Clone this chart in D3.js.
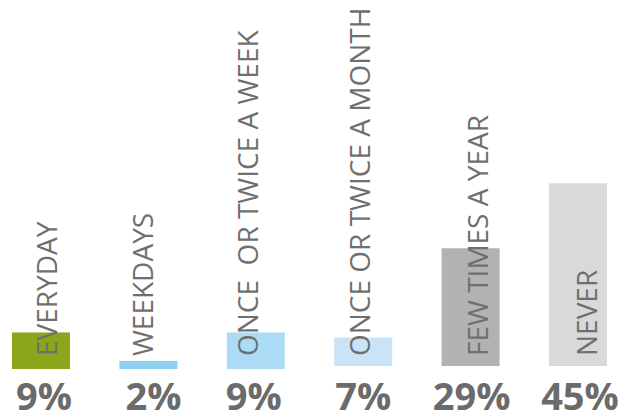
<!DOCTYPE html>
<html>
<head>
<meta charset="utf-8">
<script src="https://cdn.jsdelivr.net/npm/d3@7"></script>
<style>
  html, body { margin: 0; padding: 0; background: #ffffff; }
  svg { display: block; }
  text { font-family: "Open Sans", "Noto Sans", sans-serif; white-space: pre; }
</style>
</head>
<body>
<svg id="chart" width="634" height="417"></svg>
<script>
// ---- data ----
const categories = ["EVERYDAY", "WEEKDAYS", "ONCE  OR TWICE A WEEK", "ONCE OR TWICE A MONTH", "FEW TIMES A YEAR", "NEVER"];
const values = [9, 2, 9, 7, 29, 45];
const valueLabels = ["9%", "2%", "9%", "7%", "29%", "45%"];
const colors = ["#8aa61a", "#8ecff1", "#acdcf5", "#cbe3f7", "#b2b2b2", "#d9d9d9"];

// ---- layout ----
const labelDx = [16, 5, 2, 7, 17, 19];
const valueDx = [3, 5, -2, 0, 1, 2];
const baseShift = [0, 0, 0, -3, -3, -3];
const baseline = 369;

const svg = d3.select("#chart");

const x = d3.scaleBand()
  .domain(categories)
  .range([12, 607])
  .paddingInner(0.46)
  .paddingOuter(0);

const h = d3.scaleLinear().domain([0, 45]).range([0, 182.7]);

const g = svg.append("g");

g.selectAll("rect.bar")
  .data(categories)
  .join("rect")
  .attr("class", "bar")
  .attr("x", d => x(d))
  .attr("width", x.bandwidth())
  .attr("y", (d, i) => baseline + baseShift[i] - h(values[i]))
  .attr("height", (d, i) => h(values[i]))
  .attr("fill", (d, i) => colors[i]);

g.selectAll("text.cat")
  .data(categories)
  .join("text")
  .attr("class", "cat")
  .attr("transform", (d, i) => `translate(${x(d) + x.bandwidth() / 2 + labelDx[i]},356) rotate(-90)`)
  .attr("text-anchor", "start")
  .attr("font-size", 28)
  .attr("fill", "#6f6f6f")
  .text(d => d);

g.selectAll("text.val")
  .data(categories)
  .join("text")
  .attr("class", "val")
  .attr("x", (d, i) => x(d) + x.bandwidth() / 2 + valueDx[i])
  .attr("y", 410)
  .attr("text-anchor", "middle")
  .attr("font-size", 38)
  .attr("font-weight", "bold")
  .attr("fill", "#6b6b6b")
  .text((d, i) => valueLabels[i]);
</script>
</body>
</html>
